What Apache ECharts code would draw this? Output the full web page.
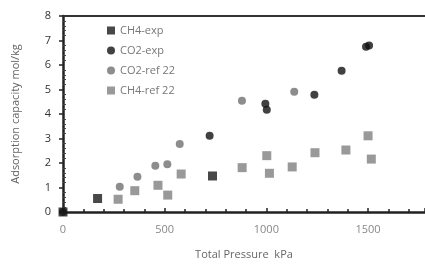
<!DOCTYPE html>
<html>
<head>
<meta charset="UTF-8">
<script src="https://cdn.jsdelivr.net/npm/echarts@6/dist/echarts.min.js"></script>
<style>html,body{margin:0;padding:0;background:#fff;}#chart{width:425px;height:273px;}</style>
</head>
<body>
<div id="chart"></div>
<script>
// [pressure kPa, capacity mol/kg]
var ch4Exp = [[0, 0], [170, 0.55], [735, 1.47]];
var co2Exp = [[0, 0], [721, 3.11], [995, 4.42], [1002, 4.17], [1236, 4.79], [1370, 5.77], [1490, 6.74], [1505, 6.8]];
var co2Ref = [[279, 1.03], [366, 1.44], [454, 1.89], [513, 1.95], [574, 2.78], [880, 4.54], [1137, 4.91]];
var ch4Ref = [[271, 0.52], [353, 0.87], [467, 1.09], [515, 0.69], [581, 1.55], [881, 1.81], [1002, 2.30],
	[1015, 1.58], [1127, 1.84], [1239, 2.42], [1391, 2.53], [1500, 3.11], [1516, 2.16]];
var seriesNames = ['CH4-exp', 'CO2-exp', 'CO2-ref 22', 'CH4-ref 22'];

var font = 'Open Sans';
var chart = echarts.init(document.getElementById('chart'));

chart.setOption({
	animation: false,
	grid: {left: 63, right: 0, top: 16, bottom: 61},
	legend: {
		left: 102, top: 20, orient: 'vertical', itemGap: 9,
		itemWidth: 8, itemHeight: 8,
		textStyle: {fontFamily: font, fontSize: 11, color: '#777'},
		data: seriesNames
	},
	xAxis: [{
		type: 'value', min: 0, max: 1780, interval: 500,
		name: 'Total Pressure  kPa', nameLocation: 'middle', nameGap: 37,
		nameTextStyle: {fontFamily: font, fontSize: 11, color: '#666'},
		axisLine: {show: true, onZero: false, lineStyle: {color: '#222', width: 2.5}},
		axisTick: {show: true, inside: true, length: 4, lineStyle: {color: '#222', width: 1.5}},
		minorTick: {show: true, splitNumber: 5, length: 3, lineStyle: {color: '#222', width: 1.5}},
		axisLabel: {fontFamily: font, fontSize: 11, color: '#888', margin: 12, showMaxLabel: false,
			formatter: function (v) { return String(v); }},
		splitLine: {show: false}
	}, {
		type: 'value', position: 'top', min: 0, max: 1780,
		axisLine: {show: true, onZero: false, lineStyle: {color: '#333', width: 2}},
		axisTick: {show: false}, axisLabel: {show: false}, splitLine: {show: false}
	}],
	yAxis: [{
		type: 'value', min: 0, max: 8, interval: 1,
		name: 'Adsorption capacity mol/kg', nameLocation: 'middle', nameGap: 42,
		nameTextStyle: {fontFamily: font, fontSize: 11, color: '#666'},
		axisLine: {show: true, onZero: false, lineStyle: {color: '#222', width: 2.5}},
		axisTick: {show: true, length: 4, lineStyle: {color: '#222', width: 1.5}},
		axisLabel: {fontFamily: font, fontSize: 11, color: '#333', margin: 12},
		splitLine: {show: false}
	}, {
		type: 'value', position: 'left', min: 0, max: 8, interval: 1,
		axisLine: {show: false, onZero: false},
		axisTick: {show: false, inside: true},
		minorTick: {show: true, splitNumber: 5, length: 3, lineStyle: {color: '#444'}},
		axisLabel: {show: false}, splitLine: {show: false}
	}],
	series: [
		{name: seriesNames[0], type: 'scatter', symbol: 'rect', symbolSize: 9, data: ch4Exp, itemStyle: {color: '#1a1a1a'}, z: 4},
		{name: seriesNames[1], type: 'scatter', symbol: 'circle', symbolSize: 8, data: co2Exp, itemStyle: {color: '#111'}, z: 3},
		{name: seriesNames[2], type: 'scatter', symbol: 'circle', symbolSize: 8, data: co2Ref, itemStyle: {color: '#707070'}},
		{name: seriesNames[3], type: 'scatter', symbol: 'rect', symbolSize: 9, data: ch4Ref, itemStyle: {color: '#808080'}}
	]
});
</script>
</body>
</html>
